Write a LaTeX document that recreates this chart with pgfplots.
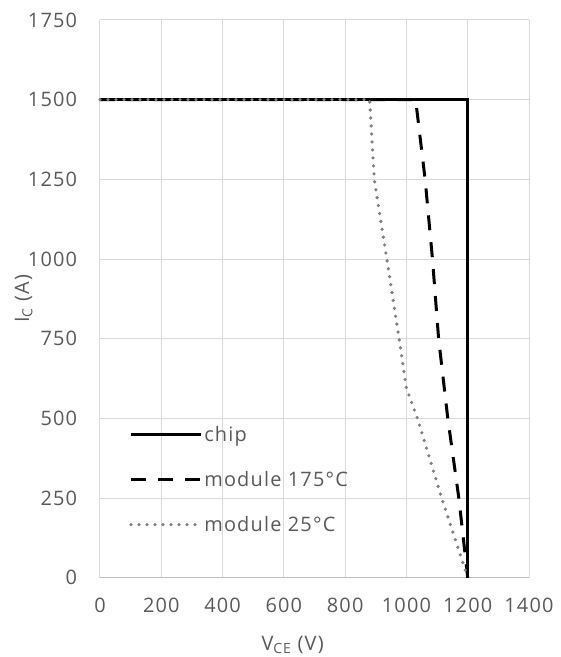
\documentclass[border=0pt]{standalone}
\usepackage{fontspec}
\setmainfont{Open Sans}[LetterSpace=6]
\usepackage{pgfplots}
\pgfplotsset{compat=1.18}

\definecolor{txt}{HTML}{595959}
\definecolor{gridc}{HTML}{D9D9D9}
\definecolor{axc}{HTML}{BFBFBF}
\definecolor{dotc}{HTML}{7F7F7F}

\begin{document}
\begin{tikzpicture}
\useasboundingbox (-100bp,-79.3bp) rectangle (461bp,577.7bp);
\begin{axis}[
    at={(0,0)}, anchor=south west,
    width=429bp, height=557.7bp,
    scale only axis,
    xmin=0, xmax=1400,
    ymin=0, ymax=1750,
    xtick={0,200,...,1400},
    ytick={0,250,...,1750},
    grid=major,
    major grid style={gridc, line width=1bp},
    axis line style={draw=none},
    major tick length=0pt,
    tick label style={font=\fontsize{20}{24}\selectfont, text=txt, inner sep=0pt},
    /pgf/number format/assume math mode=true,
    /pgf/number format/set thousands separator={},
    xticklabel style={anchor=north, yshift=-20bp},
    yticklabel style={anchor=east, xshift=-22.7bp},
    xlabel={V\textsubscript{CE} (V)},
    ylabel={I\textsubscript{C} (A)},
    label style={font=\fontsize{20}{24}\selectfont, text=txt},
    xlabel style={at={(axis description cs:0.449,-0.1297)}, anchor=base},
    ylabel style={at={(axis description cs:-0.178,0.5)}, anchor=center},
    legend cell align=left,
    legend style={draw=none, fill=none, at={(axis description cs:0.0676,0.275)}, anchor=north west,
        font=\fontsize{20}{24}\selectfont, text=txt, row sep=25.5bp, inner sep=0pt,
        nodes={inner sep=1.5bp, xshift=2bp}},
    legend image code/.code={\draw[#1] (0bp,0bp) -- (70bp,0bp);},
    clip=false,
]
\draw[axc, line width=1.3bp] (axis cs:0,0) -- (axis cs:1400,0);
\addplot[black, line width=3bp] coordinates {
    (0,1500) (1200,1500) (1200,0)
};
\addlegendentry{chip}
\addplot[black, line width=3bp, dash pattern=on 15bp off 12bp] coordinates {
    (0,1500) (1030,1500) (1061,1250) (1085,1000) (1105,750) (1135,500) (1171,250) (1200,0)
};
\addlegendentry{module 175°C}
\addplot[dotc, line width=3.6bp, line cap=round, dash pattern=on 0bp off 8bp] coordinates {
    (0,1500) (880,1500) (895,1250) (936,1000) (976,750) (1000,594) (1036,500) (1115,250) (1200,0)
};
\addlegendentry{module 25°C}
\end{axis}
\end{tikzpicture}
\end{document}
